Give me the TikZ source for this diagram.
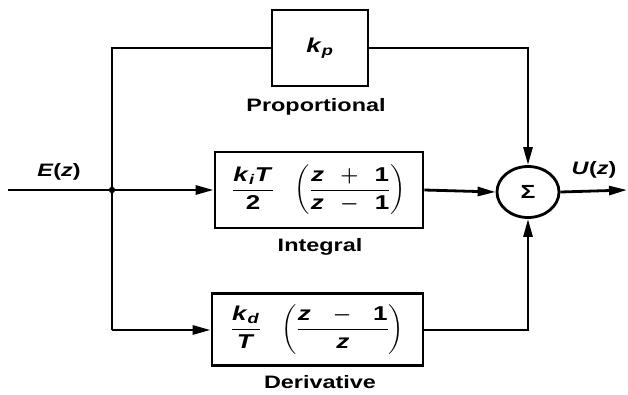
\documentclass[tikz,border=0pt]{standalone}
\usepackage{amsmath}
\usepackage{fontspec}
\setmainfont{Liberation Sans}[FakeStretch=1.3]
\usetikzlibrary{arrows.meta,shapes.geometric}
\newcommand{\mi}[1]{\textbf{\textit{#1}}}
\newcommand{\mn}[1]{\textbf{\textup{#1}}}
\begin{document}
\begin{tikzpicture}[x=1pt,y=-1pt,
  line width=2.8pt,
  blockbox/.style={draw,line width=2.8pt,inner sep=0pt,font=\fontsize{20}{23}\selectfont},
  lbl/.style={font=\fontsize{18}{21}\selectfont\bfseries,inner sep=0pt},
  sig/.style={font=\fontsize{18}{21}\selectfont\bfseries,inner sep=0pt},
  arr/.style={-{Triangle[length=18pt,width=9pt]}},
  wire/.style={line width=2.8pt}]
\useasboundingbox (0,0) rectangle (628,394);
% blocks
\node[blockbox,minimum width=96pt,minimum height=76pt] (kp) at (320,48) {$\mi{k}_{\mi{p}}$};
\node[blockbox,minimum width=208pt,minimum height=76pt] (int) at (319,190)
  {$\displaystyle\frac{\mi{k}_{\mi{i}}\mi{T}}{\mn{2}}\;\;\;\left(\frac{\mi{z}\;\;\boldsymbol{+}\;\;\mn{1}}{\mi{z}\;\;\boldsymbol{-}\;\;\mn{1}}\right)$};
\node[blockbox,minimum width=211pt,minimum height=72pt] (der) at (317.5,329.5)
  {$\displaystyle\frac{\mi{k}_{\mi{d}}}{\mi{T}}\;\;\;\left(\frac{\mi{z}\;\;\;\boldsymbol{-}\;\;\;\mn{1}}{\mi{z}}\right)$};
\node[draw,ellipse,line width=2.8pt,minimum width=62pt,minimum height=51pt,inner sep=0pt,font=\fontsize{19}{22}\selectfont\bfseries] (sum) at (528,192) {Σ};
% labels
\node[lbl] (lp) at (316,107) {Proportional};
\node[lbl] (li) at (320,247) {Integral};
\node[lbl] (ld) at (320,382) {Derivative};
\node[sig] (ez) at (59,172) {\mi{E}(\mi{z})};
\node[sig] (uz) at (594,170) {\mi{U}(\mi{z})};
% coordinates
\coordinate (in) at (8,190);
\coordinate (j) at (112,190);
\coordinate (jt) at (112,48);
\coordinate (jb) at (112,330);
\coordinate (rt) at (528,48);
\coordinate (rb) at (528,330);
\coordinate (out) at (627,190);
% wires
\draw[wire] (in) -- (j);
\fill (j) circle (3.2pt);
\draw[wire] (jb) -- (jt) -- (kp.west);
\draw[wire,arr] (j) -- (int.west);
\draw[wire,arr] (jb) -- (der.west|-jb);
\draw[wire,arr] (kp.east) -- (rt) -- (sum.north);
\draw[wire,arr] (int.east) -- (sum.west);
\draw[wire,arr] (der.east|-rb) -- (rb) -- (sum.south);
\draw[wire,arr] (sum.east) -- (out);
\end{tikzpicture}
\end{document}
